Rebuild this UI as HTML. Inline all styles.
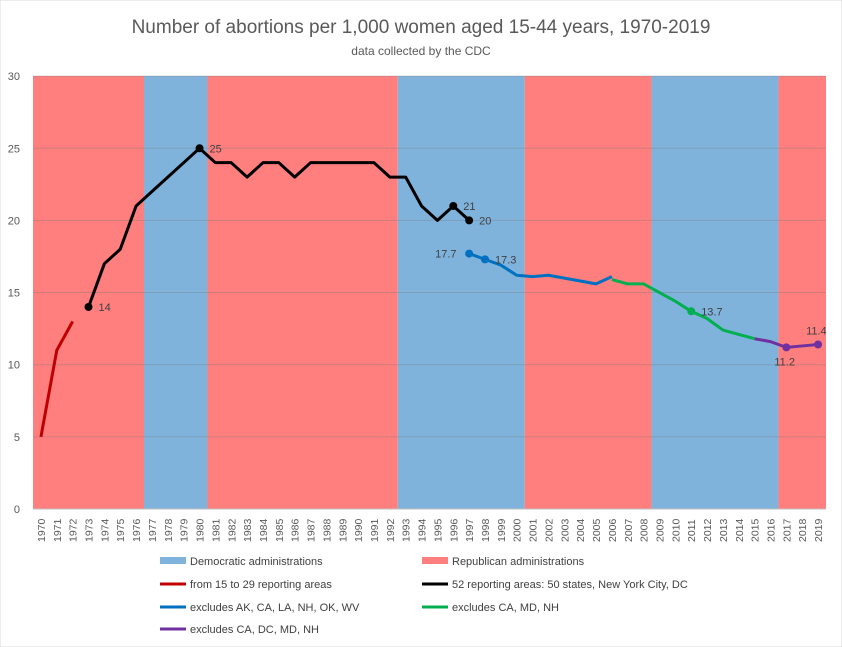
<!DOCTYPE html>
<html><head><meta charset="utf-8"><style>
body{margin:0;background:#fff;}
svg{display:block;font-family:"Liberation Sans",sans-serif;}
</style></head><body>
<svg width="842" height="647" viewBox="0 0 842 647">
<rect x="0" y="0" width="842" height="647" fill="#fff" stroke="#d9d9d9"/>
<text x="421" y="33" text-anchor="middle" font-size="19" fill="#595959">Number of abortions per 1,000 women aged 15-44 years, 1970-2019</text>
<text x="421" y="55" text-anchor="middle" font-size="12" fill="#595959">data collected by the CDC</text>
<g id="bands"></g>
<g id="grid"></g>
<g id="lines"></g>
<g id="labels" font-size="11" fill="#595959"></g>
<g font-size="11" fill="#404040">
<rect x="160" y="557" width="26" height="7" fill="#7fb3dc"/><text x="190" y="565">Democratic administrations</text>
<line x1="160" y1="584" x2="186" y2="584" stroke="#c00000" stroke-width="3"/><text x="190" y="588">from 15 to 29 reporting areas</text>
<line x1="160" y1="607" x2="186" y2="607" stroke="#0070c0" stroke-width="3"/><text x="190" y="611">excludes AK, CA, LA, NH, OK, WV</text>
<line x1="160" y1="629" x2="186" y2="629" stroke="#7030a0" stroke-width="3"/><text x="190" y="633">excludes CA, DC, MD, NH</text>
<rect x="422" y="557" width="26" height="7" fill="#ff7f7f"/><text x="452" y="565">Republican administrations</text>
<line x1="422" y1="584" x2="448" y2="584" stroke="#000" stroke-width="3"/><text x="452" y="588">52 reporting areas: 50 states, New York City, DC</text>
<line x1="422" y1="607" x2="448" y2="607" stroke="#00b050" stroke-width="3"/><text x="452" y="611">excludes CA, MD, NH</text>
</g>
</svg>
<script>
const ns="http://www.w3.org/2000/svg";
const X0=33,W=793/50,Y=v=>509-v*14.43;
const xc=i=>X0+W*(i+0.5);
function el(p,t,a,txt){const e=document.createElementNS(ns,t);for(const k in a)e.setAttribute(k,a[k]);if(txt!==undefined)e.textContent=txt;document.getElementById(p).appendChild(e);}
const bands=[[0,7,"#ff7f7f"],[7,11,"#7fb3dc"],[11,23,"#ff7f7f"],[23,31,"#7fb3dc"],[31,39,"#ff7f7f"],[39,47,"#7fb3dc"],[47,50,"#ff7f7f"]];
bands.forEach(b=>el("bands","rect",{x:X0+W*b[0],y:76,width:W*(b[1]-b[0]),height:433,fill:b[2]}));
for(let v=0;v<=30;v+=5){el("grid","line",{x1:X0,x2:826,y1:Y(v),y2:Y(v),stroke:v==0?"#bfbfbf":"rgba(120,120,120,0.35)","stroke-width":1});
el("labels","text",{x:20,y:Y(v)+4,"text-anchor":"end"},v);}
for(let i=0;i<50;i++){el("labels","text",{transform:`translate(${xc(i)+4},542) rotate(-90)`,"font-size":"10.5"},1970+i);}
function line(start,vals,c){el("lines","polyline",{points:vals.map((v,k)=>xc(start-1970+k)+","+Y(v)).join(" "),fill:"none",stroke:c,"stroke-width":3,"stroke-linejoin":"round"});}
line(1970,[5,11,13],"#c00000");
line(1973,[14,17,18,21,22,23,24,25,24,24,23,24,24,23,24,24,24,24,24,23,23,21,20,21,20],"#000");
line(1997,[17.7,17.3,16.9,16.2,16.1,16.2,16.0,15.8,15.6,16.1],"#0070c0");
line(2006,[15.9,15.6,15.6,15.0,14.4,13.7,13.2,12.4,12.1,11.8],"#00b050");
line(2015,[11.8,11.6,11.2,11.3,11.4],"#7030a0");
[[1973,14,"#000"],[1980,25,"#000"],[1996,21,"#000"],[1997,20,"#000"],[1997,17.7,"#0070c0"],[1998,17.3,"#0070c0"],[2011,13.7,"#00b050"],[2017,11.2,"#7030a0"],[2019,11.4,"#7030a0"]].forEach(p=>el("lines","circle",{cx:xc(p[0]-1970),cy:Y(p[1]),r:4,fill:p[2]}));
[[1973,14,10,4,"14"],[1980,25,10,4,"25"],[1996,21,10,4,"21"],[1997,20,10,4,"20"],[1997,17.7,-34,4,"17.7"],[1998,17.3,10,4,"17.3"],[2011,13.7,10,4,"13.7"],[2017,11.2,-12,18,"11.2"],[2019,11.4,-12,-10,"11.4"]].forEach(p=>el("labels","text",{x:xc(p[0]-1970)+p[2],y:Y(p[1])+p[3],fill:"#404040"},p[4]));
</script>
</body></html>
